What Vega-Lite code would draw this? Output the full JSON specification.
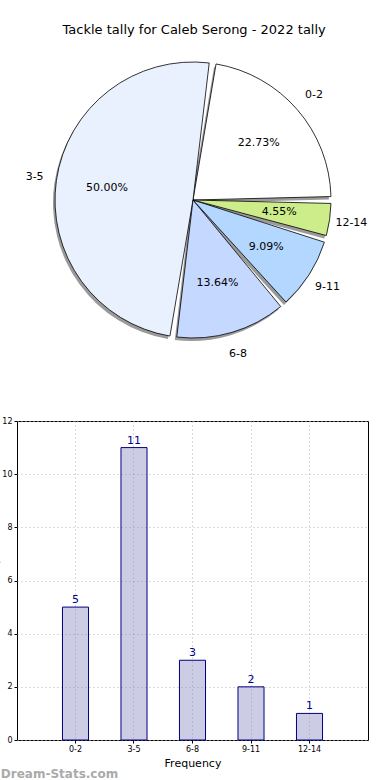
{
  "$schema": "https://vega.github.io/schema/vega-lite/v6.json",
  "padding": {"left": -11, "top": 24, "right": 0, "bottom": 0},
  "config": {
    "font": "DejaVu Sans",
    "view": {"stroke": null},
    "title": {"fontWeight": "normal"}
  },
  "title": {"text": "Tackle tally for Caleb Serong - 2022 tally", "fontSize": 13, "anchor": "middle", "offset": 23, "color": "black", "dx": 15},
  "datasets": {
    "d": [
      {"range": "0-2", "n": 5, "pct": "22.73%", "i": 1},
      {"range": "3-5", "n": 11, "pct": "50.00%", "i": 2},
      {"range": "6-8", "n": 3, "pct": "13.64%", "i": 3},
      {"range": "9-11", "n": 2, "pct": "9.09%", "i": 4},
      {"range": "12-14", "n": 1, "pct": "4.55%", "i": 5}
    ]
  },
  "spacing": 57,
  "vconcat": [
    {
      "width": 352,
      "height": 280,
      "data": {"name": "d"},
      "encoding": {
        "theta": {"field": "n", "type": "quantitative", "stack": true, "scale": {"range": [1.5708, 7.854]}},
        "order": {"field": "i", "type": "quantitative", "sort": "descending"}
      },
      "layer": [
        {
          "mark": {"type": "arc", "outerRadius": 138, "padAngle": 0.05, "fill": "#9a9a9a", "xOffset": -2, "yOffset": 3}
        },
        {
          "mark": {"type": "arc", "outerRadius": 138, "padAngle": 0.05, "stroke": "black", "strokeWidth": 0.8},
          "encoding": {
            "color": {
              "field": "range", "type": "nominal", "legend": null,
              "scale": {"domain": ["0-2", "3-5", "6-8", "9-11", "12-14"], "range": ["#ffffff", "#eaf1fe", "#c5d8ff", "#b4d7ff", "#cdec8a"]}
            }
          }
        },
        {
          "mark": {"type": "text", "radius": 87, "fontSize": 11, "color": "black"},
          "encoding": {"text": {"field": "pct"}}
        },
        {
          "mark": {"type": "text", "radius": 160, "fontSize": 11, "color": "black"},
          "encoding": {"text": {"field": "range"}}
        }
      ]
    },
    {
      "width": 351,
      "height": 319,
      "view": {"stroke": "black", "strokeWidth": 1},
      "data": {"name": "d"},
      "title": {"text": "Dream-Stats.com", "orient": "bottom", "anchor": "start", "fontSize": 12, "fontWeight": "bold", "color": "#aaaaaa", "offset": 1, "dx": 11},
      "encoding": {
        "x": {
          "field": "range", "type": "nominal", "sort": null,
          "scale": {"paddingInner": 0.555, "paddingOuter": 0.7775},
          "axis": {"title": "Frequency", "titleFontSize": 11, "titleFontWeight": "normal", "titlePadding": 4, "labelAngle": 0, "labelFontSize": 8, "labelColor": "black", "tickSize": 3, "tickColor": "black", "domain": false, "grid": true, "bandPosition": 0.5, "gridDash": [1, 3], "gridColor": "#b5b5b5", "labelPadding": 2}
        }
      },
      "layer": [
        {
          "mark": {"type": "bar", "fill": "#7f7fbf", "fillOpacity": 0.4, "stroke": "#000080", "strokeWidth": 1},
          "encoding": {
            "y": {
              "field": "n", "type": "quantitative",
              "scale": {"domain": [0, 12], "nice": false},
              "axis": {"title": "Games Played", "titleFontSize": 10, "titleFontWeight": "normal", "titlePadding": 2, "values": [0, 2, 4, 6, 8, 10, 12], "labelFontSize": 8, "labelColor": "black", "tickSize": 3, "tickColor": "black", "domain": false, "grid": true, "gridDash": [1, 3], "gridColor": "#b5b5b5", "labelPadding": 2}
            }
          }
        },
        {
          "mark": {"type": "text", "dy": -7, "fontSize": 11, "color": "#00008b"},
          "encoding": {
            "y": {"field": "n", "type": "quantitative"},
            "text": {"field": "n", "type": "quantitative"}
          }
        }
      ]
    }
  ]
}
